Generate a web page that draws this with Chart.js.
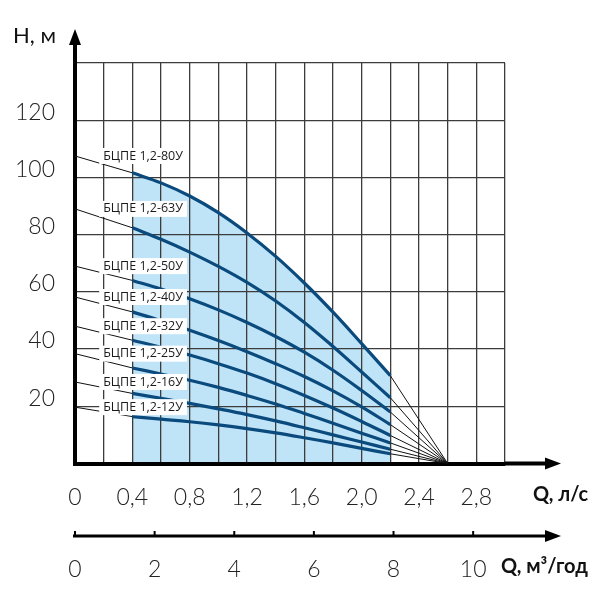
<!DOCTYPE html>
<html>
<head>
<meta charset="utf-8">
<script src="https://cdn.jsdelivr.net/npm/chart.js@4.4.1/dist/chart.umd.min.js"></script>
<style>
  html, body { margin: 0; padding: 0; background: #fff; }
  #wrap { width: 600px; height: 600px; }
</style>
</head>
<body>
<div id="wrap"><canvas id="pump-chart"></canvas></div>
<script>
// flow, l/s (first and last points are the thin extensions)
var flow = [0, 0.4, 0.6, 0.8, 1.0, 1.2, 1.4, 1.6, 1.8, 2.0, 2.2, 2.6];
var models = ["БЦПЕ 1,2-80У", "БЦПЕ 1,2-63У", "БЦПЕ 1,2-50У", "БЦПЕ 1,2-40У",
              "БЦПЕ 1,2-32У", "БЦПЕ 1,2-25У", "БЦПЕ 1,2-16У", "БЦПЕ 1,2-12У"];
// head, m
var head80 = [107.5, 101.6, 98.1, 93.5, 87.7, 80.6, 72.4, 63.1, 52.9, 41.9, 30.7, 0];
var head63 = [89, 82.4, 78.4, 73.9, 68.9, 63.3, 56.8, 49.3, 40.9, 32.0, 23.0, 0];
var head50 = [69, 64, 61, 57.6, 53.7, 49.3, 44.4, 38.9, 32.6, 25.5, 18.0, 0];
var head40 = [58.2, 53, 49.9, 46.6, 43.0, 39.1, 34.9, 30.4, 25.4, 19.8, 13.6, 0];
var head32 = [48, 43.1, 40.6, 37.9, 34.9, 31.6, 27.9, 23.8, 19.4, 14.7, 9.8, 0];
var head25 = [38.4, 33.4, 31.3, 29.1, 26.6, 23.8, 20.8, 17.5, 14.1, 10.6, 7.2, 0];
var head16 = [28.5, 24.5, 22.8, 21.0, 19.1, 17.1, 14.9, 12.5, 10.0, 7.5, 5.0, 0];
var head12 = [19.7, 16.4, 15.5, 14.6, 13.5, 12.2, 10.7, 9.0, 7.2, 5.3, 3.4, 0];
var heads = [head80, head63, head50, head40, head32, head25, head16, head12];

var qMax = 3.0;      // l/s
var hMax = 140;      // m
var m3PerLs = 3.6;   // 1 l/s = 3.6 m3/h

var curveBlue = "#0b4a7d";
var areaBlue = "#bfe4f8";
var gridColor = "#3c3c3c";
var tickFont = { family: "Lato, 'Open Sans', sans-serif", size: 23, weight: "300" };

var datasets = [];
heads.forEach(function (h, i) {
  var pts = flow.map(function (q, j) { return { x: q, y: h[j] }; });
  var n = pts.length;
  datasets.push({
    label: models[i],
    data: pts.slice(1, n - 1),
    borderColor: curveBlue,
    borderWidth: 3.2,
    tension: 0.4,
    pointRadius: 0,
    fill: i === 0 ? "origin" : false,
    backgroundColor: areaBlue
  });
  datasets.push({ data: pts.slice(0, 2), borderColor: "#111", borderWidth: 1, pointRadius: 0 });
  datasets.push({ data: pts.slice(n - 2), borderColor: "#111", borderWidth: 1, pointRadius: 0 });
});

function arrow(ctx, x, y, dir) {
  ctx.beginPath();
  if (dir === "up") {
    ctx.moveTo(x, y); ctx.lineTo(x - 6, y + 16); ctx.lineTo(x + 6, y + 16);
  } else {
    ctx.moveTo(x, y); ctx.lineTo(x - 16, y - 6); ctx.lineTo(x - 16, y + 6);
  }
  ctx.closePath();
  ctx.fill();
}

var decor = {
  id: "decor",
  afterDraw: function (chart) {
    var ctx = chart.ctx, area = chart.chartArea;
    var xs = chart.scales.x, ys = chart.scales.y, x2 = chart.scales.x2;
    ctx.save();
    ctx.fillStyle = "#000";
    ctx.strokeStyle = "#000";

    // axis arrows
    ctx.lineWidth = 4;
    ctx.beginPath();
    ctx.moveTo(area.left, area.top);
    ctx.lineTo(area.left, area.top - 20);
    ctx.stroke();
    arrow(ctx, area.left, area.top - 34, "up");
    ctx.beginPath();
    ctx.moveTo(area.right, area.bottom);
    ctx.lineTo(area.right + 42, area.bottom);
    ctx.stroke();
    arrow(ctx, area.right + 56, area.bottom, "right");

    // second flow axis, m3/h
    ctx.lineWidth = 3;
    ctx.beginPath();
    ctx.moveTo(area.left - 2, x2.top);
    ctx.lineTo(area.right + 42, x2.top);
    ctx.stroke();
    arrow(ctx, area.right + 56, x2.top, "right");
    ctx.lineWidth = 2;
    x2.ticks.forEach(function (t) {
      var px = x2.getPixelForValue(t.value);
      ctx.beginPath();
      ctx.moveTo(px, x2.top - 5);
      ctx.lineTo(px, x2.top);
      ctx.stroke();
    });

    // axis titles
    ctx.textBaseline = "middle";
    ctx.textAlign = "left";
    ctx.fillStyle = "#111";
    ctx.font = "400 22px Lato, 'Open Sans', sans-serif";
    ctx.fillText("H, м", area.left - 62, area.top - 27);
    ctx.font = "700 20px Lato, 'Open Sans', sans-serif";
    ctx.fillText("Q, л/с", area.right + 28, area.bottom + 31);
    ctx.fillText("Q, м³/год", area.right - 4, x2.top + 31);

    // curve names at the height where each curve starts
    ctx.font = "12.5px 'Open Sans', sans-serif";
    ctx.textAlign = "center";
    var cx = xs.getPixelForValue(0.475);
    heads.forEach(function (h, i) {
      var cy = ys.getPixelForValue(h[0]);
      var w = ctx.measureText(models[i]).width + 8;
      ctx.fillStyle = "#fff";
      ctx.fillRect(cx - w / 2, cy - 8, w, 16);
      ctx.fillStyle = "#1a1a1a";
      ctx.fillText(models[i], cx, cy);
    });
    ctx.restore();
  }
};

new Chart(document.getElementById("pump-chart"), {
  type: "line",
  data: { datasets: datasets },
  options: {
    responsive: true,
    maintainAspectRatio: false,
    animation: false,
    layout: { padding: { top: 63, right: 95, bottom: 10, left: 0 } },
    plugins: {
      legend: { display: false },
      tooltip: { enabled: false },
      filler: { drawTime: "beforeDraw" }
    },
    scales: {
      x: {
        type: "linear",
        min: 0,
        max: qMax,
        weight: 0,
        grid: { color: gridColor, lineWidth: 1.3, drawTicks: false },
        border: { display: true, color: "#000", width: 4 },
        ticks: {
          stepSize: 0.2,
          autoSkip: false,
          maxRotation: 0,
          padding: 20,
          color: "#222",
          font: tickFont,
          callback: function (v) {
            var k = Math.round(v * 10);
            if (k === 0) return "0";
            return k % 4 === 0 ? (k / 10).toFixed(1).replace(".", ",") : "";
          }
        },
        afterFit: function (s) { s.height = 72.5; }
      },
      x2: {
        type: "linear",
        position: "bottom",
        min: 0,
        max: qMax * m3PerLs,
        weight: 1,
        grid: { display: false },
        border: { display: false },
        ticks: {
          stepSize: 2,
          includeBounds: false,
          autoSkip: false,
          maxRotation: 0,
          padding: 12,
          color: "#222",
          font: tickFont
        },
        afterFit: function (s) { s.height = 54; }
      },
      y: {
        min: 0,
        max: hMax,
        grid: { color: gridColor, lineWidth: 1.3, drawTicks: false },
        border: { display: true, color: "#000", width: 4 },
        ticks: {
          stepSize: 20,
          padding: 20,
          labelOffset: -8,
          color: "#222",
          font: tickFont,
          callback: function (v) { return (v === 0 || v === hMax) ? "" : v; }
        },
        afterFit: function (s) { s.width = 75; }
      }
    }
  },
  plugins: [decor]
});
</script>
</body>
</html>
